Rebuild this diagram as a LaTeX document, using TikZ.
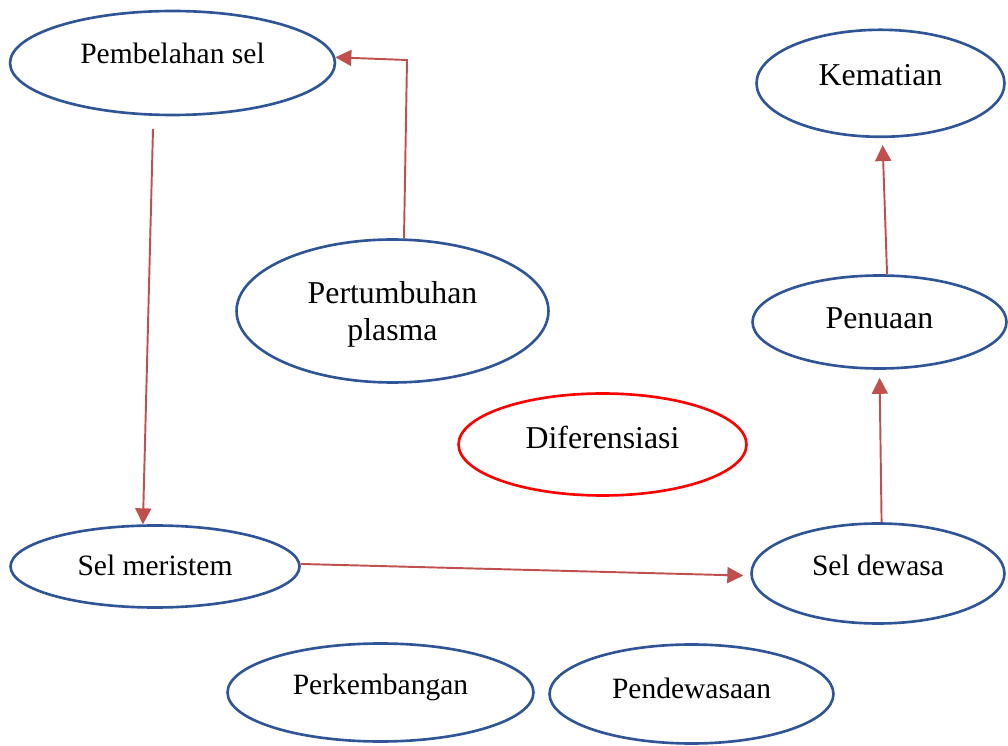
\documentclass[tikz,border=0pt]{standalone}
\usepackage{fontspec}
\setmainfont{Liberation Serif}
\usepackage{tikz}
\usetikzlibrary{arrows.meta, shapes.geometric, positioning, calc}
\definecolor{bubbleblue}{HTML}{2F5597}
\definecolor{flowred}{HTML}{C0504D}
\tikzset{
  every picture/.style={line width=0.8pt},
  every node/.style={font=\fontsize{16.8}{21.5}\selectfont},
  bubble/.style={draw=bubbleblue, ellipse, line width=1.5pt, inner sep=0pt, align=center},
  redbubble/.style={bubble, draw=red},
  big/.style={font=\fontsize{18.1}{21.5}\selectfont},
  txt/.style={text height=#1, text depth=0pt},
  flow/.style={draw=flowred, line width=1.1pt, -{Triangle[length=0.32cm, width=0.32cm]}}
}

\begin{document}
\begin{tikzpicture}[x=0.02cm, y=-0.02cm]
    \useasboundingbox (0,0) rectangle (1008,746);

    \node [bubble, txt=0.04cm, minimum width=6.5cm, minimum height=2.08cm] (pembelahan) at (172.5,63) {Pembelahan sel};
    \node [bubble, big, txt=0.07cm, minimum width=4.96cm, minimum height=2.14cm] (kematian) at (880.5,83.3) {Kematian};
    \node [bubble, big, text depth=0pt, minimum width=6.24cm, minimum height=2.86cm] (plasma) at (392.5,311) {Pertumbuhan\\plasma};
    \node [bubble, big, txt=0.28cm, minimum width=5.08cm, minimum height=1.86cm] (penuaan) at (879.5,322) {Penuaan};
    \node [redbubble, big, txt=0.18cm, minimum width=5.76cm, minimum height=2.04cm] (diferensiasi) at (602.5,444.5) {Diferensiasi};
    \node [bubble, txt=0.38cm, minimum width=5.78cm, minimum height=1.64cm] (meristem) at (155,566.5) {Sel meristem};
    \node [bubble, txt=0.1cm, minimum width=5.06cm, minimum height=2cm] (dewasa) at (878,573.5) {Sel dewasa};
    \node [bubble, txt=0.06cm, minimum width=6.12cm, minimum height=1.96cm] (perkembangan) at (380.5,692.5) {Perkembangan};
    \node [bubble, txt=0.16cm, minimum width=5.68cm, minimum height=1.98cm] (pendewasaan) at (691.5,694) {Pendewasaan};

    \coordinate (elbow) at (407,60);
    \coordinate (drop) at (153,129);

    \draw[flow] (plasma.81) -- (elbow) -- (pembelahan.2);
    \draw[flow] (drop) -- (meristem.106);
    \draw[flow, shorten >=0.14cm] (meristem.1) -- (dewasa.181);
    \draw[flow, shorten >=0.16cm] (dewasa.86) -- (penuaan.south);
    \draw[flow, shorten >=0.14cm] (penuaan.81) -- (kematian.272);
  \end{tikzpicture}
\end{document}
